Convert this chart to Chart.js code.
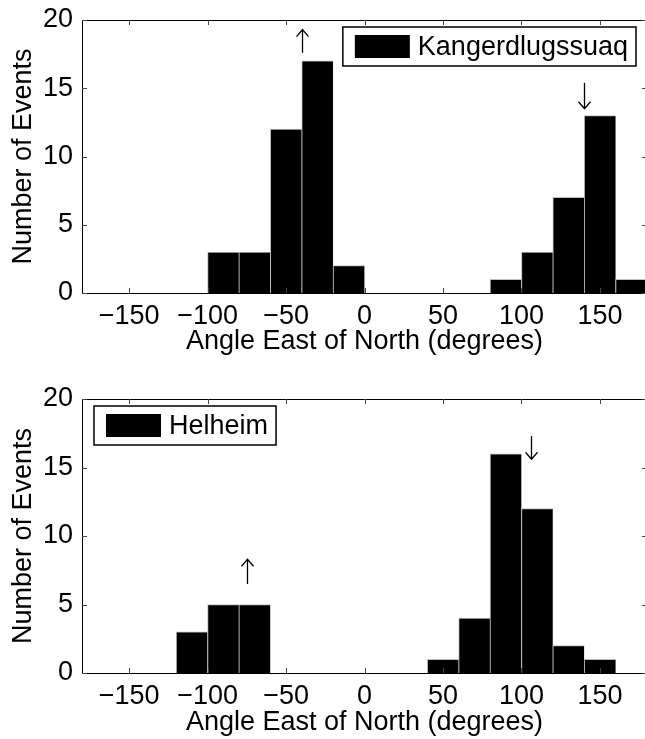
<!DOCTYPE html>
<html>
<head>
<meta charset="utf-8">
<script src="https://cdn.jsdelivr.net/npm/chart.js@4"></script>
<style>
  html, body { margin: 0; padding: 0; background: #fff; overflow: hidden; width: 645px; height: 739px; }
  canvas { position: absolute; left: 0; }
  #kangChart { top: 0; }
  #helChart { top: 370px; }
</style>
</head>
<body>
<canvas id="kangChart" width="660" height="370"></canvas>
<canvas id="helChart" width="660" height="369"></canvas>
<script>
// 20 degree bins, centre of each bin
const binCenters = [-170, -150, -130, -110, -90, -70, -50, -30, -10, 10, 30, 50, 70, 90, 110, 130, 150, 170];
const kangCounts = [0, 0, 0, 0, 3, 3, 12, 17, 2, 0, 0, 0, 0, 1, 3, 7, 13, 1];
const helCounts  = [0, 0, 0, 3, 5, 5, 0, 0, 0, 0, 0, 1, 4, 16, 12, 2, 1, 0];
const xTicks = [-150, -100, -50, 0, 50, 100, 150];
const yTicks = [0, 5, 10, 15, 20];
// arrows: [angle, from count, to count] (head at "to")
const kangArrows = [[-40, 17.6, 19.3], [140, 15.4, 13.5]];
const helArrows  = [[-75, 6.5, 8.3], [106, 17.3, 15.6]];

const FONT = '"Liberation Sans", Arial, Helvetica, sans-serif';
Chart.defaults.font.family = FONT;
Chart.defaults.color = '#000';

// box, inward ticks, arrows and the legend, MATLAB style
const matlabPlugin = {
    id: 'matlab',
    afterDatasetsDraw(chart, args, opts) {
        const ctx = chart.ctx;
        const a = chart.chartArea;
        const x = chart.scales.x, y = chart.scales.y;
        ctx.save();

        // top + right frame
        ctx.strokeStyle = '#000';
        ctx.lineWidth = 1;
        ctx.beginPath();
        ctx.moveTo(Math.round(a.left), Math.round(a.top) + 0.5);
        ctx.lineTo(Math.round(a.right) + 0.5, Math.round(a.top) + 0.5);
        ctx.lineTo(Math.round(a.right) + 0.5, Math.round(a.bottom));
        ctx.stroke();

        // inward ticks
        ctx.strokeStyle = '#444';
        ctx.beginPath();
        xTicks.forEach(v => {
            const px = Math.round(x.getPixelForValue(v)) + 0.5;
            ctx.moveTo(px, a.bottom); ctx.lineTo(px, a.bottom - 5);
            ctx.moveTo(px, a.top); ctx.lineTo(px, a.top + 5);
        });
        yTicks.forEach(v => {
            const py = Math.round(y.getPixelForValue(v)) + 0.5;
            ctx.moveTo(a.left, py); ctx.lineTo(a.left + 5, py);
            ctx.moveTo(a.right, py); ctx.lineTo(a.right - 5, py);
        });
        ctx.stroke();

        // arrows
        ctx.strokeStyle = '#000';
        ctx.lineWidth = 1.3;
        (opts.arrows || []).forEach(([ang, v0, v1]) => {
            const px = Math.round(x.getPixelForValue(ang)) + 0.5;
            const p0 = y.getPixelForValue(v0), p1 = y.getPixelForValue(v1);
            const dir = p1 < p0 ? 1 : -1;
            ctx.beginPath();
            ctx.moveTo(px, p0); ctx.lineTo(px, p1);
            ctx.moveTo(px - 6, p1 + dir * 7); ctx.lineTo(px, p1); ctx.lineTo(px + 6, p1 + dir * 7);
            ctx.stroke();
        });

        // legend box
        const label = chart.data.datasets[0].label;
        ctx.font = '27px ' + FONT;
        const tw = ctx.measureText(label).width;
        const w = 12 + 55 + 8 + tw + 8, h = 39;
        const bx = opts.legendSide === 'right' ? a.right - 11 - w : a.left + 12;
        const by = a.top + 7;
        ctx.fillStyle = '#fff';
        ctx.fillRect(bx, by, w, h);
        ctx.lineWidth = 1.5;
        ctx.strokeStyle = '#000';
        ctx.strokeRect(bx, by, w, h);
        ctx.fillStyle = '#000';
        ctx.fillRect(bx + 12, by + 8, 55, 23);
        ctx.textBaseline = 'middle';
        ctx.textAlign = 'left';
        ctx.fillText(label, bx + 12 + 55 + 8, by + h / 2 + 1);
        ctx.restore();
    }
};

function fmt(v) {
    return v < 0 ? '\u2212' + Math.abs(v) : String(v);
}

function makeHist(id, counts, label, arrows, legendSide, padTop, xHeight, tickPad, titlePad) {
    const ctx = document.getElementById(id).getContext('2d');
    return new Chart(ctx, {
        type: 'bar',
        data: {
            datasets: [{
                label: label,
                data: binCenters.map((c, i) => ({ x: c, y: counts[i] })),
                backgroundColor: '#000',
                borderColor: '#bdbdbd',
                borderWidth: { left: 1, top: 1, right: 0.5, bottom: 0 },
                borderSkipped: false,
                barPercentage: 1,
                categoryPercentage: 1
            }]
        },
        options: {
            responsive: false,
            animation: false,
            layout: { padding: { top: padTop, right: 13, left: 0, bottom: 0 } },
            scales: {
                x: {
                    type: 'linear',
                    min: -180,
                    max: 180,
                    offset: false,
                    afterBuildTicks: s => { s.ticks = xTicks.map(v => ({ value: v })); },
                    afterFit: s => { s.height = xHeight; s.paddingLeft = 0; s.paddingRight = 0; },
                    grid: { display: false, drawTicks: false },
                    border: { display: true, color: '#000', width: 1 },
                    ticks: { font: { size: 27 }, padding: tickPad, maxRotation: 0, autoSkip: false, callback: v => fmt(v) },
                    title: { display: true, text: 'Angle East of North (degrees)', font: { size: 27 }, padding: { top: 0, bottom: titlePad } }
                },
                y: {
                    min: 0,
                    max: 20,
                    afterBuildTicks: s => { s.ticks = yTicks.map(v => ({ value: v })); },
                    // keep the plot box where the figure has it
                    afterFit: s => { s.width = 82; s.paddingTop = 0; s.paddingBottom = 0; },
                    grid: { display: false, drawTicks: false },
                    border: { display: true, color: '#000', width: 1 },
                    ticks: { font: { size: 27 }, padding: 9, callback: v => fmt(v) },
                    title: { display: true, text: 'Number of Events', font: { size: 27 }, padding: { top: 7, bottom: 0 } }
                }
            },
            plugins: {
                legend: { display: false },
                tooltip: { enabled: false },
                matlab: { arrows: arrows, legendSide: legendSide }
            }
        },
        plugins: [matlabPlugin]
    });
}

makeHist('kangChart', kangCounts, 'Kangerdlugssuaq', kangArrows, 'right', 20, 77, 7, 12);
makeHist('helChart', helCounts, 'Helheim', helArrows, 'left', 29, 66, 7, 0);
</script>
</body>
</html>
